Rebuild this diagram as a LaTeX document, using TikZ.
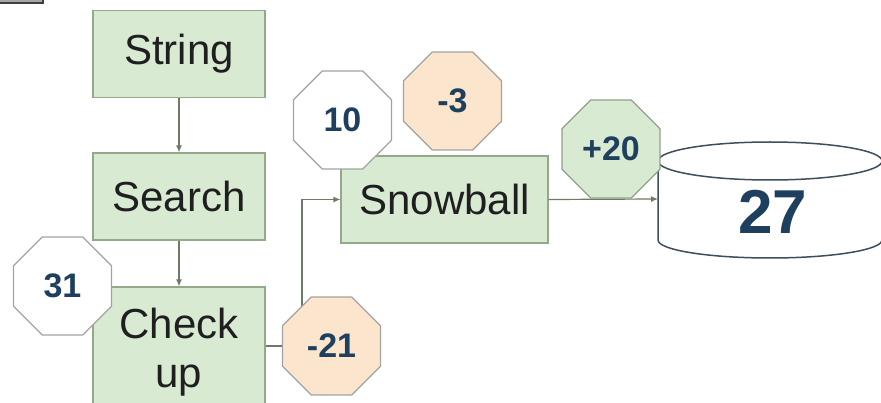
\documentclass[tikz,border=0pt]{standalone}
\usepackage{fontspec}
\setmainfont{Liberation Sans}
\usetikzlibrary{shapes.geometric,arrows.meta}
\definecolor{boxfill}{HTML}{D9EAD3}
\definecolor{boxline}{HTML}{93AA88}
\definecolor{wire}{HTML}{6E7A66}
\definecolor{navy}{HTML}{1E3F5E}
\definecolor{peach}{HTML}{FCE5CD}
\definecolor{octline}{HTML}{A3A3A3}
\definecolor{dbline}{HTML}{3E4E5A}
\tikzset{
  stepbox/.style={draw=boxline, fill=boxfill, line width=1.2pt, minimum width=172pt,
    minimum height=87pt, inner sep=0pt, font=\fontsize{42}{49}\selectfont, text=black!88,
    align=center},
  badge/.style={regular polygon, regular polygon sides=8, minimum size=106pt, inner sep=0pt,
    draw=octline, line width=1.2pt, text=navy, font=\bfseries\fontsize{34}{40}\selectfont},
  wirearrow/.style={draw=wire, line width=1.2pt, -{Latex[length=7pt,width=6pt]}},
}
\begin{document}
\begin{tikzpicture}[x=1pt,y=-1pt]
  \useasboundingbox (0,0) rectangle (881,403);
  \fill[white] (0,0) rectangle (881,403);

  % small bar in the upper-left corner
  \fill[gray!70] (-2,-2) rectangle (43,3);
  \draw[black!75, line width=1.5pt] (-2,3) -- (43,3) -- (43,-2);

  % process boxes
  \node[stepbox] (string) at (179,54) {String};
  \node[stepbox] (search) at (179,196.5) {Search};
  \node[stepbox, minimum height=130pt] (check) at (179,352) {Check\\up};
  \node[stepbox, minimum width=207pt] (snow) at (444.5,199.5) {Snowball};

  % database cylinder
  \draw[dbline, line width=1.5pt, fill=white] (658,161) -- (658,240)
     arc[start angle=180, end angle=0, x radius=112, y radius=18] -- (882,161);
  \draw[dbline, line width=1.5pt, fill=white] (770,161) ellipse[x radius=112, y radius=19];
  \coordinate (dbin) at (658,199);
  \node[text=navy, font=\bfseries\fontsize{62}{70}\selectfont] (db) at (773,212) {27};

  % connectors
  \draw[wirearrow] (string.south) -- (search.north);
  \draw[wirearrow] (search.south) -- (check.north);
  \coordinate (bend) at (302,346);
  \draw[wirearrow] (check.east |- bend) -- (bend) |- (snow.west);
  \draw[wirearrow] (snow.east) -- (dbin);

  % score badges
  \node[badge, fill=white] (b31) at (62.5,286) {31};
  \node[badge, fill=peach] (b21) at (331.5,346) {-21};
  \node[badge, fill=white] (b10) at (342.5,120) {10};
  \node[badge, fill=peach] (b3) at (452.5,101) {-3};
  \node[badge, fill=boxfill, draw=boxline!80!gray] (b20) at (611,149) {+20};
\end{tikzpicture}
\end{document}
